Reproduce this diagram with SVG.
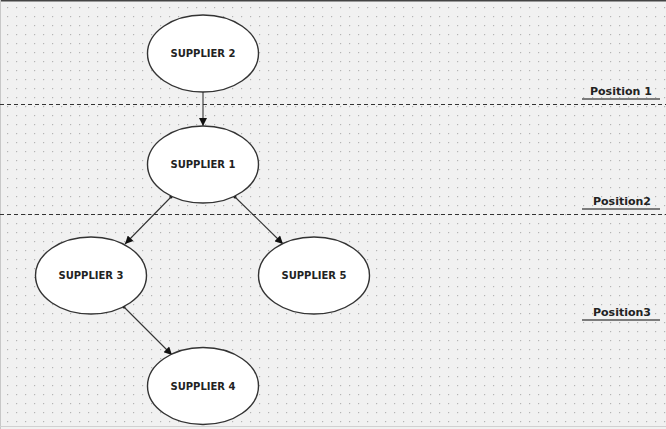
<svg xmlns="http://www.w3.org/2000/svg" width="666" height="429" viewBox="0 0 666 429">
  <defs>
    <pattern id="grid" x="0" y="0" width="9" height="9" patternUnits="userSpaceOnUse">
      <rect x="7" y="7" width="1.2" height="1.2" fill="#b4b4b4"/>
    </pattern>
    <marker id="arrow" viewBox="0 0 10 10" refX="10" refY="5" markerWidth="9" markerHeight="8" markerUnits="userSpaceOnUse" orient="auto">
      <path d="M0,0 L10,5 L0,10 z" fill="#111"/>
    </marker>
  </defs>
  <style>
    .node ellipse { fill: #ffffff; stroke: #333333; stroke-width: 1.4; }
    .node text { font-family: "DejaVu Sans", Verdana, sans-serif; font-weight: bold; font-size: 10px; fill: #222222; text-anchor: middle; }
    .conn line { stroke: #333333; stroke-width: 1.1; marker-end: url(#arrow); }
    .conn circle { fill: #111111; }
    .divider { stroke: #333333; stroke-width: 1; stroke-dasharray: 4 3; }
    .pos text { font-family: "DejaVu Sans", Verdana, sans-serif; font-weight: bold; font-size: 11px; fill: #222222; }
    .pos line { stroke: #555555; stroke-width: 1.4; }
  </style>
  <rect x="0" y="0" width="666" height="429" fill="#f1f1f1"/>
  <rect x="0" y="0" width="666" height="426" fill="url(#grid)"/>
  <line x1="0" y1="0.75" x2="666" y2="0.75" stroke="#444" stroke-width="1.5"/>
  <line x1="0.5" y1="0" x2="0.5" y2="429" stroke="#c8c8c8" stroke-width="1"/>
  <line x1="0" y1="426.5" x2="666" y2="426.5" stroke="#d0d0d0" stroke-width="1"/>

  <g id="dividers">
    <line class="divider" x1="0" y1="104.5" x2="666" y2="104.5"/>
    <line class="divider" x1="0" y1="214.5" x2="666" y2="214.5"/>
  </g>

  <g id="position1" class="pos">
    <text x="590" y="95">Position 1</text>
    <line x1="582" y1="99" x2="660" y2="99"/>
  </g>
  <g id="position2" class="pos">
    <text x="593" y="205">Position2</text>
    <line x1="582" y1="209" x2="660" y2="209"/>
  </g>
  <g id="position3" class="pos">
    <text x="593" y="316">Position3</text>
    <line x1="582" y1="320" x2="660" y2="320"/>
  </g>

  <g id="connectors" class="conn">
    <line x1="203" y1="92" x2="203" y2="126"/>
    <circle cx="171" cy="197" r="1.5"/>
    <line x1="171" y1="197" x2="125" y2="244"/>
    <circle cx="235" cy="197" r="1.5"/>
    <line x1="235" y1="197" x2="283" y2="244"/>
    <circle cx="124" cy="307" r="1.5"/>
    <line x1="124" y1="307" x2="172" y2="355"/>
  </g>

  <g id="supplier2" class="node">
    <ellipse cx="203" cy="53.5" rx="55.5" ry="38.5"/>
    <text x="203" y="57">SUPPLIER 2</text>
  </g>
  <g id="supplier1" class="node">
    <ellipse cx="203" cy="164.5" rx="55.5" ry="38.5"/>
    <text x="203" y="168">SUPPLIER 1</text>
  </g>
  <g id="supplier3" class="node">
    <ellipse cx="91" cy="275.5" rx="55.5" ry="38.5"/>
    <text x="91" y="279">SUPPLIER 3</text>
  </g>
  <g id="supplier5" class="node">
    <ellipse cx="314" cy="275.5" rx="55.5" ry="38.5"/>
    <text x="314" y="279">SUPPLIER 5</text>
  </g>
  <g id="supplier4" class="node">
    <ellipse cx="203" cy="386" rx="55.5" ry="38.5"/>
    <text x="203" y="389.5">SUPPLIER 4</text>
  </g>
</svg>
